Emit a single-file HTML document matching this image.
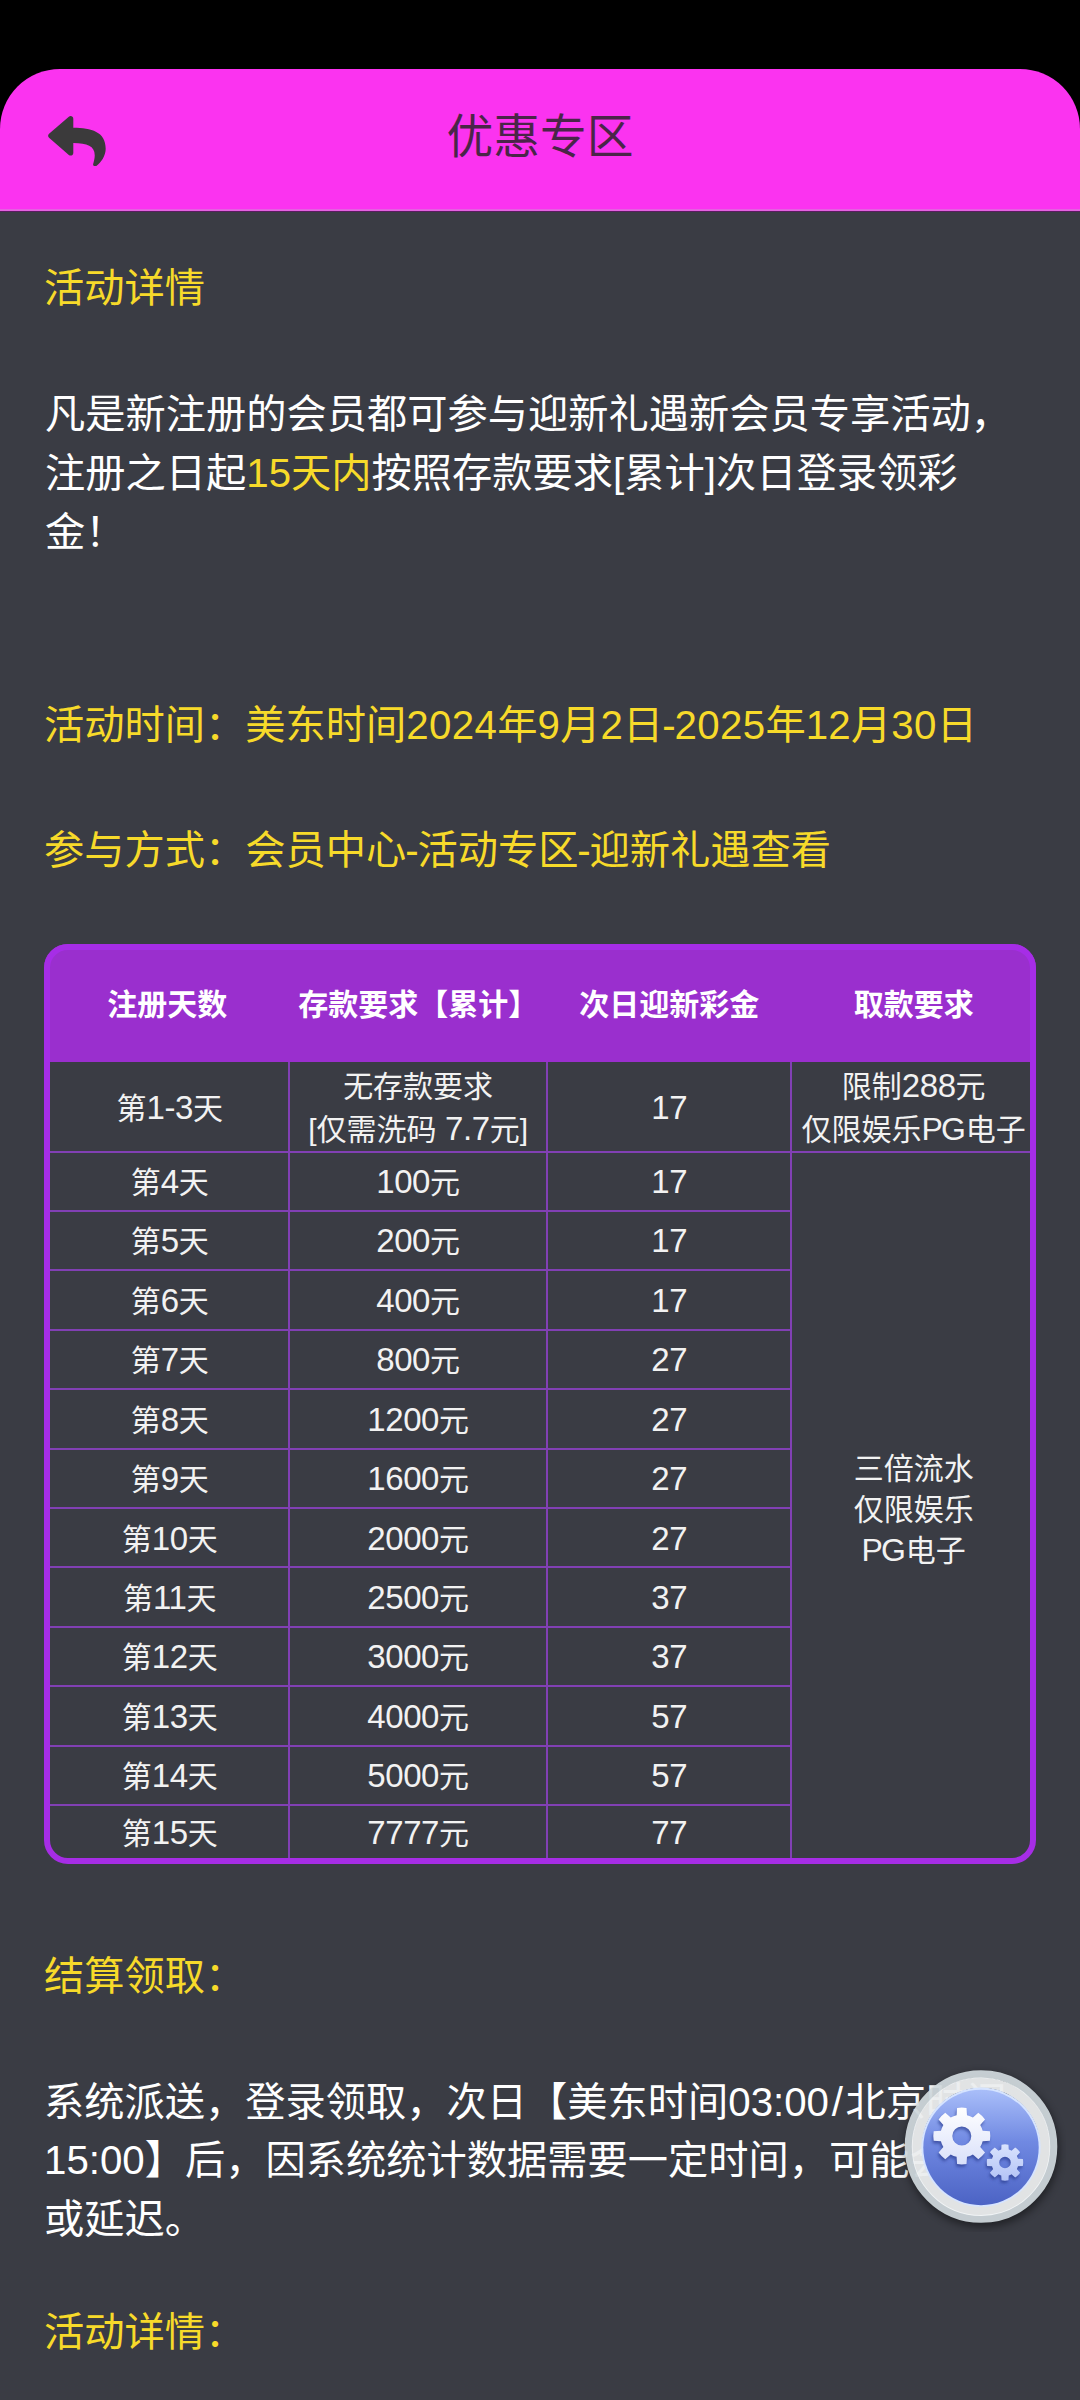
<!DOCTYPE html>
<html lang="zh-CN">
<head>
<meta charset="utf-8">
<title>优惠专区</title>
<style>
html,body{margin:0;padding:0;}
body{width:1080px;height:2400px;overflow:hidden;position:relative;background:#3a3c44;
font-family:"Liberation Sans","Noto Sans CJK SC",sans-serif;color:#fff;}
.topbar{position:absolute;left:0;top:0;width:1080px;height:140px;background:#000;}
.hline1{position:absolute;left:0;top:209px;width:1080px;height:2px;background:#e462e0;}
.hline2{position:absolute;left:0;top:211px;width:1080px;height:1px;background:#5a1c60;}
.header{position:absolute;left:0;top:69px;width:1080px;height:142px;background:#fb33f0;border-radius:60px 60px 0 0;}
.header .title{position:absolute;left:0;width:1080px;top:0;height:142px;line-height:137px;text-align:center;font-size:46.75px;color:#4a2548;}
.back{position:absolute;left:48.3px;top:46.6px;width:57.8px;height:50.4px;}
.t{position:absolute;left:44px;white-space:nowrap;font-size:40.25px;line-height:58.5px;}
.y{color:#f7da2a;}
.hy{margin:0 -1.15px;}
.dg{letter-spacing:0.33px;}
.sl{margin:0 2.7px;}
.w{color:#fff;}
/* table */
.tbl{position:absolute;box-sizing:border-box;border:6px solid #a62de6;border-radius:24px;}
.thead{position:absolute;background:#9a2fce;border-radius:24px 24px 0 0;}
.th{position:absolute;box-sizing:border-box;padding-bottom:8px;display:flex;align-items:center;justify-content:center;font-size:30px;font-weight:bold;color:#fff;font-family:"Liberation Sans","Noto Sans CJK SC",sans-serif;}
.hl{position:absolute;height:2px;background:#8140b4;}
.vl{position:absolute;width:2px;background:#8140b4;}
.n{font-size:33px;letter-spacing:-0.4px;}
.pg{font-size:32px;letter-spacing:-2px;margin-right:2px;}
.cell{position:absolute;box-sizing:border-box;padding-top:3px;text-align:center;font-size:30px;color:#f2f2f2;display:flex;align-items:center;justify-content:center;line-height:42px;font-family:"Liberation Sans","Noto Sans CJK SC",sans-serif;}
.fab{position:absolute;left:896px;top:2062px;width:170px;height:170px;}
</style>
</head>
<body>
<div class="topbar"></div>
<div class="header">
  <svg class="back" viewBox="0 32 512 448"><path fill="#3b3a3b" d="M8.309 189.836L184.313 37.851C199.719 24.546 224 35.347 224 56.015v80.053c160.629 1.839 288 34.032 288 186.258 0 61.441-39.581 122.309-83.333 154.132-13.653 9.931-33.111-2.533-28.077-18.631 45.344-145.012-21.507-183.51-176.59-185.742V360c0 20.7-24.3 31.453-39.687 18.164l-176.004-152c-11.071-9.562-11.086-26.753 0-36.328z"/></svg>
  <div class="title">优惠专区</div>
</div>
<div class="hline1"></div><div class="hline2"></div>

<div class="t y" style="top:260px;">活动详情</div>

<div class="t w" style="top:384.8px;left:45px;line-height:59px;">凡是新注册的会员都可参与迎新礼遇新会员专享活动，<br>注册之日起<span class="y">15天内</span>按照存款要求[累计]次日登录领彩<br>金！</div>

<div class="t y" style="top:697px;">活动时间：美东时间<span class="dg">2024</span>年<span class="dg">9</span>月<span class="dg">2</span>日<span class="hy">-</span><span class="dg">2025</span>年<span class="dg">12</span>月<span class="dg">30</span>日</div>
<div class="t y" style="top:822px;">参与方式：会员中心<span class="hy">-</span>活动专区<span class="hy">-</span>迎新礼遇查看</div>

<!--T-->
<div class="thead" style="left:44px;top:944px;width:992px;height:118px;"></div>
<div class="tbl" style="left:44px;top:944px;width:992px;height:920px;"></div>
<div class="th" style="left:47.5px;top:950px;width:239.4px;height:112px;">注册天数</div>
<div class="th" style="left:289.4px;top:950px;width:257.5px;height:112px;">存款要求【累计】</div>
<div class="th" style="left:546.9px;top:950px;width:244.5px;height:112px;">次日迎新彩金</div>
<div class="th" style="left:794.4px;top:950px;width:238.6px;height:112px;">取款要求</div>
<div class="hl" style="left:50px;top:1150.5px;width:980.0px;"></div>
<div class="hl" style="left:50px;top:1209.8px;width:741.4px;"></div>
<div class="hl" style="left:50px;top:1269.1px;width:741.4px;"></div>
<div class="hl" style="left:50px;top:1328.5px;width:741.4px;"></div>
<div class="hl" style="left:50px;top:1388.1px;width:741.4px;"></div>
<div class="hl" style="left:50px;top:1447.6px;width:741.4px;"></div>
<div class="hl" style="left:50px;top:1507.0px;width:741.4px;"></div>
<div class="hl" style="left:50px;top:1566.4px;width:741.4px;"></div>
<div class="hl" style="left:50px;top:1625.8px;width:741.4px;"></div>
<div class="hl" style="left:50px;top:1685.2px;width:741.4px;"></div>
<div class="hl" style="left:50px;top:1744.6px;width:741.4px;"></div>
<div class="hl" style="left:50px;top:1804.0px;width:741.4px;"></div>
<div class="vl" style="left:288.4px;top:1062px;height:796px;"></div>
<div class="vl" style="left:545.9px;top:1062px;height:796px;"></div>
<div class="vl" style="left:790.4px;top:1062px;height:796px;"></div>
<div class="cell" style="left:50.0px;top:1062.0px;width:239.4px;height:89.5px;"><div>第<span class="n">1-3</span>天</div></div>
<div class="cell" style="left:289.4px;top:1062.0px;width:257.5px;height:89.5px;"><div>无存款要求<br>[仅需洗码 <span class="n">7.7</span>元]</div></div>
<div class="cell" style="left:546.9px;top:1062.0px;width:244.5px;height:89.5px;"><div><span class="n">17</span></div></div>
<div class="cell" style="left:50.0px;top:1151.5px;width:239.4px;height:59.3px;"><div>第<span class="n">4</span>天</div></div>
<div class="cell" style="left:289.4px;top:1151.5px;width:257.5px;height:59.3px;"><div><span class="n">100</span>元</div></div>
<div class="cell" style="left:546.9px;top:1151.5px;width:244.5px;height:59.3px;"><div><span class="n">17</span></div></div>
<div class="cell" style="left:50.0px;top:1210.8px;width:239.4px;height:59.3px;"><div>第<span class="n">5</span>天</div></div>
<div class="cell" style="left:289.4px;top:1210.8px;width:257.5px;height:59.3px;"><div><span class="n">200</span>元</div></div>
<div class="cell" style="left:546.9px;top:1210.8px;width:244.5px;height:59.3px;"><div><span class="n">17</span></div></div>
<div class="cell" style="left:50.0px;top:1270.1px;width:239.4px;height:59.4px;"><div>第<span class="n">6</span>天</div></div>
<div class="cell" style="left:289.4px;top:1270.1px;width:257.5px;height:59.4px;"><div><span class="n">400</span>元</div></div>
<div class="cell" style="left:546.9px;top:1270.1px;width:244.5px;height:59.4px;"><div><span class="n">17</span></div></div>
<div class="cell" style="left:50.0px;top:1329.5px;width:239.4px;height:59.6px;"><div>第<span class="n">7</span>天</div></div>
<div class="cell" style="left:289.4px;top:1329.5px;width:257.5px;height:59.6px;"><div><span class="n">800</span>元</div></div>
<div class="cell" style="left:546.9px;top:1329.5px;width:244.5px;height:59.6px;"><div><span class="n">27</span></div></div>
<div class="cell" style="left:50.0px;top:1389.1px;width:239.4px;height:59.5px;"><div>第<span class="n">8</span>天</div></div>
<div class="cell" style="left:289.4px;top:1389.1px;width:257.5px;height:59.5px;"><div><span class="n">1200</span>元</div></div>
<div class="cell" style="left:546.9px;top:1389.1px;width:244.5px;height:59.5px;"><div><span class="n">27</span></div></div>
<div class="cell" style="left:50.0px;top:1448.6px;width:239.4px;height:59.4px;"><div>第<span class="n">9</span>天</div></div>
<div class="cell" style="left:289.4px;top:1448.6px;width:257.5px;height:59.4px;"><div><span class="n">1600</span>元</div></div>
<div class="cell" style="left:546.9px;top:1448.6px;width:244.5px;height:59.4px;"><div><span class="n">27</span></div></div>
<div class="cell" style="left:50.0px;top:1508.0px;width:239.4px;height:59.4px;"><div>第<span class="n">10</span>天</div></div>
<div class="cell" style="left:289.4px;top:1508.0px;width:257.5px;height:59.4px;"><div><span class="n">2000</span>元</div></div>
<div class="cell" style="left:546.9px;top:1508.0px;width:244.5px;height:59.4px;"><div><span class="n">27</span></div></div>
<div class="cell" style="left:50.0px;top:1567.4px;width:239.4px;height:59.4px;"><div>第<span class="n">11</span>天</div></div>
<div class="cell" style="left:289.4px;top:1567.4px;width:257.5px;height:59.4px;"><div><span class="n">2500</span>元</div></div>
<div class="cell" style="left:546.9px;top:1567.4px;width:244.5px;height:59.4px;"><div><span class="n">37</span></div></div>
<div class="cell" style="left:50.0px;top:1626.8px;width:239.4px;height:59.4px;"><div>第<span class="n">12</span>天</div></div>
<div class="cell" style="left:289.4px;top:1626.8px;width:257.5px;height:59.4px;"><div><span class="n">3000</span>元</div></div>
<div class="cell" style="left:546.9px;top:1626.8px;width:244.5px;height:59.4px;"><div><span class="n">37</span></div></div>
<div class="cell" style="left:50.0px;top:1686.2px;width:239.4px;height:59.4px;"><div>第<span class="n">13</span>天</div></div>
<div class="cell" style="left:289.4px;top:1686.2px;width:257.5px;height:59.4px;"><div><span class="n">4000</span>元</div></div>
<div class="cell" style="left:546.9px;top:1686.2px;width:244.5px;height:59.4px;"><div><span class="n">57</span></div></div>
<div class="cell" style="left:50.0px;top:1745.6px;width:239.4px;height:59.4px;"><div>第<span class="n">14</span>天</div></div>
<div class="cell" style="left:289.4px;top:1745.6px;width:257.5px;height:59.4px;"><div><span class="n">5000</span>元</div></div>
<div class="cell" style="left:546.9px;top:1745.6px;width:244.5px;height:59.4px;"><div><span class="n">57</span></div></div>
<div class="cell" style="left:50.0px;top:1805.0px;width:239.4px;height:53.0px;"><div>第<span class="n">15</span>天</div></div>
<div class="cell" style="left:289.4px;top:1805.0px;width:257.5px;height:53.0px;"><div><span class="n">7777</span>元</div></div>
<div class="cell" style="left:546.9px;top:1805.0px;width:244.5px;height:53.0px;"><div><span class="n">77</span></div></div>
<div class="cell" style="left:794.4px;top:1062px;width:238.6px;height:89.5px;"><div>限制<span class="n">288</span>元<br>仅限娱乐<span class="pg">PG</span>电子</div></div>
<div class="cell" style="left:794.4px;line-height:41px;padding-top:9px;top:1151.5px;width:238.6px;height:706.5px;"><div>三倍流水<br>仅限娱乐<br><span class="pg">PG</span>电子</div></div>

<!--/T-->

<div class="t y" style="top:1948px;">结算领取：</div>
<div class="t w" style="top:2073.5px;">系统派送，登录领取，次日【美东时间03:00<span class="sl">/</span>北京时间<br>15:00】后，因系统统计数据需要一定时间，可能会有<br>或延迟。</div>
<div class="t y" style="top:2303.5px;">活动详情：</div>

<svg class="fab" width="170" height="170" viewBox="0 0 170 170">
<defs>
<filter id="sh" x="-30%" y="-30%" width="160%" height="160%"><feGaussianBlur stdDeviation="4"/></filter>
<filter id="gs" x="-30%" y="-30%" width="160%" height="160%"><feGaussianBlur stdDeviation="1.5"/></filter>
<linearGradient id="bl" x1="0" y1="0" x2="0" y2="1"><stop offset="0" stop-color="#a9bef9"/><stop offset="0.45" stop-color="#7089e2"/><stop offset="1" stop-color="#4c63c4"/></linearGradient>
<linearGradient id="g1" x1="0" y1="0" x2="0" y2="1"><stop offset="0" stop-color="#ffffff"/><stop offset="1" stop-color="#d9e0fa"/></linearGradient>
<linearGradient id="g2" x1="0" y1="0" x2="0" y2="1"><stop offset="0" stop-color="#d9e3fd"/><stop offset="1" stop-color="#b3c3f6"/></linearGradient>
</defs>
<circle cx="86" cy="88" r="77" fill="#000" opacity="0.45" filter="url(#sh)"/>
<circle cx="85" cy="84.5" r="72.4" fill="none" stroke="#d2dbe0" stroke-width="7.8" opacity="0.92"/>
<circle cx="85" cy="84.7" r="64" fill="none" stroke="#f6f8fa" stroke-width="10.4" opacity="0.9"/>
<circle cx="85" cy="85.2" r="59.6" fill="#d6e4ff"/>
<circle cx="85" cy="85.5" r="57.7" fill="url(#bl)"/>
<g transform="translate(-1,2.5)" fill="#26378a" opacity="0.65" filter="url(#gs)" fill-rule="evenodd"><path d="M60.60 53.14 L61.07 45.89 A28.5 28.5 0 0 1 70.53 45.89 L71.00 53.14 A21.5 21.5 0 0 1 76.88 55.57 L82.33 50.78 A28.5 28.5 0 0 1 89.02 57.47 L84.23 62.92 A21.5 21.5 0 0 1 86.66 68.80 L93.91 69.27 A28.5 28.5 0 0 1 93.91 78.73 L86.66 79.20 A21.5 21.5 0 0 1 84.23 85.08 L89.02 90.53 A28.5 28.5 0 0 1 82.33 97.22 L76.88 92.43 A21.5 21.5 0 0 1 71.00 94.86 L70.53 102.11 A28.5 28.5 0 0 1 61.07 102.11 L60.60 94.86 A21.5 21.5 0 0 1 54.72 92.43 L49.27 97.22 A28.5 28.5 0 0 1 42.58 90.53 L47.37 85.08 A21.5 21.5 0 0 1 44.94 79.20 L37.69 78.73 A28.5 28.5 0 0 1 37.69 69.27 L44.94 68.80 A21.5 21.5 0 0 1 47.37 62.92 L42.58 57.47 A28.5 28.5 0 0 1 49.27 50.78 L54.72 55.57 A21.5 21.5 0 0 1 60.60 53.14 Z M75.30 74.00 A9.5 9.5 0 1 0 56.30 74.00 A9.5 9.5 0 1 0 75.30 74.00 Z"/><path d="M105.25 87.53 L105.52 82.64 A18.2 18.2 0 0 1 112.48 82.64 L112.75 87.53 A13.5 13.5 0 0 1 115.52 88.68 L119.17 85.41 A18.2 18.2 0 0 1 124.09 90.33 L120.82 93.98 A13.5 13.5 0 0 1 121.97 96.75 L126.86 97.02 A18.2 18.2 0 0 1 126.86 103.98 L121.97 104.25 A13.5 13.5 0 0 1 120.82 107.02 L124.09 110.67 A18.2 18.2 0 0 1 119.17 115.59 L115.52 112.32 A13.5 13.5 0 0 1 112.75 113.47 L112.48 118.36 A18.2 18.2 0 0 1 105.52 118.36 L105.25 113.47 A13.5 13.5 0 0 1 102.48 112.32 L98.83 115.59 A18.2 18.2 0 0 1 93.91 110.67 L97.18 107.02 A13.5 13.5 0 0 1 96.03 104.25 L91.14 103.98 A18.2 18.2 0 0 1 91.14 97.02 L96.03 96.75 A13.5 13.5 0 0 1 97.18 93.98 L93.91 90.33 A18.2 18.2 0 0 1 98.83 85.41 L102.48 88.68 A13.5 13.5 0 0 1 105.25 87.53 Z M114.80 100.50 A5.8 5.8 0 1 0 103.20 100.50 A5.8 5.8 0 1 0 114.80 100.50 Z"/></g>
<path d="M60.60 53.14 L61.07 45.89 A28.5 28.5 0 0 1 70.53 45.89 L71.00 53.14 A21.5 21.5 0 0 1 76.88 55.57 L82.33 50.78 A28.5 28.5 0 0 1 89.02 57.47 L84.23 62.92 A21.5 21.5 0 0 1 86.66 68.80 L93.91 69.27 A28.5 28.5 0 0 1 93.91 78.73 L86.66 79.20 A21.5 21.5 0 0 1 84.23 85.08 L89.02 90.53 A28.5 28.5 0 0 1 82.33 97.22 L76.88 92.43 A21.5 21.5 0 0 1 71.00 94.86 L70.53 102.11 A28.5 28.5 0 0 1 61.07 102.11 L60.60 94.86 A21.5 21.5 0 0 1 54.72 92.43 L49.27 97.22 A28.5 28.5 0 0 1 42.58 90.53 L47.37 85.08 A21.5 21.5 0 0 1 44.94 79.20 L37.69 78.73 A28.5 28.5 0 0 1 37.69 69.27 L44.94 68.80 A21.5 21.5 0 0 1 47.37 62.92 L42.58 57.47 A28.5 28.5 0 0 1 49.27 50.78 L54.72 55.57 A21.5 21.5 0 0 1 60.60 53.14 Z M75.30 74.00 A9.5 9.5 0 1 0 56.30 74.00 A9.5 9.5 0 1 0 75.30 74.00 Z" fill="url(#g1)" fill-rule="evenodd"/>
<path d="M105.25 87.53 L105.52 82.64 A18.2 18.2 0 0 1 112.48 82.64 L112.75 87.53 A13.5 13.5 0 0 1 115.52 88.68 L119.17 85.41 A18.2 18.2 0 0 1 124.09 90.33 L120.82 93.98 A13.5 13.5 0 0 1 121.97 96.75 L126.86 97.02 A18.2 18.2 0 0 1 126.86 103.98 L121.97 104.25 A13.5 13.5 0 0 1 120.82 107.02 L124.09 110.67 A18.2 18.2 0 0 1 119.17 115.59 L115.52 112.32 A13.5 13.5 0 0 1 112.75 113.47 L112.48 118.36 A18.2 18.2 0 0 1 105.52 118.36 L105.25 113.47 A13.5 13.5 0 0 1 102.48 112.32 L98.83 115.59 A18.2 18.2 0 0 1 93.91 110.67 L97.18 107.02 A13.5 13.5 0 0 1 96.03 104.25 L91.14 103.98 A18.2 18.2 0 0 1 91.14 97.02 L96.03 96.75 A13.5 13.5 0 0 1 97.18 93.98 L93.91 90.33 A18.2 18.2 0 0 1 98.83 85.41 L102.48 88.68 A13.5 13.5 0 0 1 105.25 87.53 Z M114.80 100.50 A5.8 5.8 0 1 0 103.20 100.50 A5.8 5.8 0 1 0 114.80 100.50 Z" fill="url(#g2)" fill-rule="evenodd"/>
</svg>
</body>
</html>
